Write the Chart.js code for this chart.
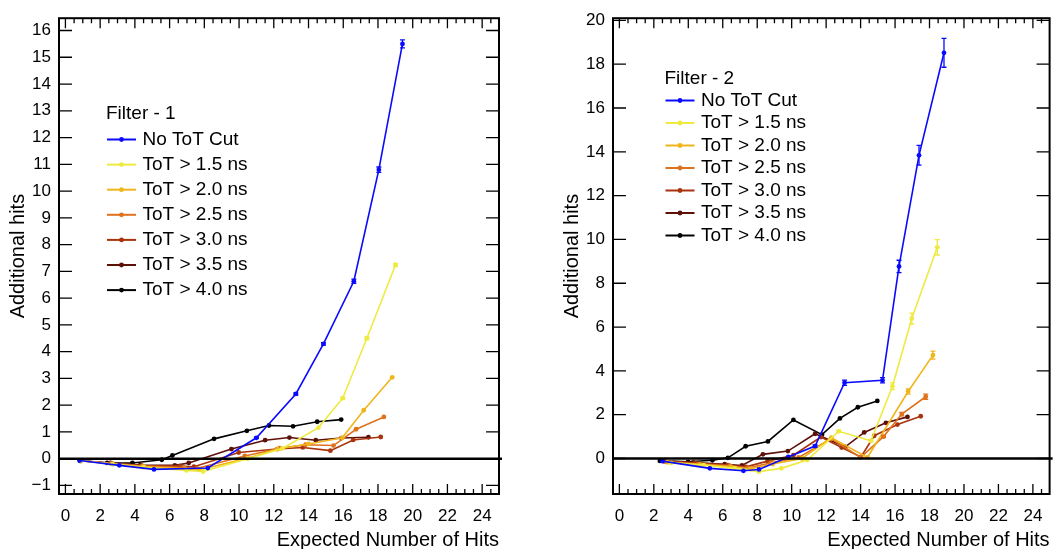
<!DOCTYPE html>
<html>
<head>
<meta charset="utf-8">
<script src="https://cdn.jsdelivr.net/npm/chart.js@4.4.1/dist/chart.umd.min.js"></script>
<style>
  body { margin: 0; background: #fff; width: 1055px; height: 549px; overflow: hidden; position: relative; }
  canvas { position: absolute; top: 0; }
  #filter1 { left: 0; }
  #filter2 { left: 554px; }
</style>
</head>
<body>
<canvas id="filter1" width="527" height="549"></canvas>
<canvas id="filter2" width="501" height="549"></canvas>
<script>
const seriesNames = ['No ToT Cut', 'ToT > 1.5 ns', 'ToT > 2.0 ns', 'ToT > 2.5 ns', 'ToT > 3.0 ns', 'ToT > 3.5 ns', 'ToT > 4.0 ns'];
const seriesColors = ['#0a0aff', '#eeea40', '#efb51a', '#e0721e', '#a8330c', '#5c1008', '#000000'];

const xTicks = [0, 2, 4, 6, 8, 10, 12, 14, 16, 18, 20, 22, 24];
const yTicks1 = [-1, 0, 1, 2, 3, 4, 5, 6, 7, 8, 9, 10, 11, 12, 13, 14, 15, 16];
const yTicks2 = [0, 2, 4, 6, 8, 10, 12, 14, 16, 18, 20];

// Filter - 1 : [expected number of hits, additional hits]
const f1NoCut = [[0.82, -0.07], [3.1, -0.25], [5.1, -0.4], [8.2, -0.35], [11.0, 0.78], [13.27, 2.42], [14.86, 4.29], [16.61, 6.63], [18.05, 10.8], [19.41, 15.5]];
const f1NoCutErr = [0, 0, 0, 0, 0.02, 0.04, 0.05, 0.08, 0.1, 0.15];
const f1Tot15 = [[0.9, -0.08], [2.7, -0.2], [4.5, -0.32], [6.97, -0.44], [7.93, -0.48], [10.5, 0.0], [12.5, 0.38], [14.57, 1.16], [15.97, 2.26], [17.36, 4.5], [19.01, 7.24]];
const f1Tot15Err = [0, 0, 0, 0, 0, 0, 0, 0, 0.03, 0.05, 0.06];
const f1Tot20 = [[0.9, -0.08], [2.7, -0.2], [4.5, -0.3], [6.9, -0.38], [7.7, -0.42], [10.5, 0.02], [12.2, 0.36], [14.0, 0.55], [15.94, 0.78], [17.18, 1.81], [18.82, 3.04]];
const f1Tot25 = [[0.9, -0.08], [2.7, -0.18], [4.4, -0.28], [6.8, -0.33], [7.6, -0.36], [10.33, 0.1], [12.34, 0.39], [13.83, 0.52], [15.44, 0.49], [16.74, 1.1], [18.34, 1.56]];
const f1Tot30 = [[0.9, -0.08], [2.6, -0.17], [4.4, -0.26], [6.6, -0.28], [7.4, -0.3], [9.98, 0.23], [12.19, 0.36], [13.67, 0.42], [15.26, 0.3], [16.57, 0.7], [18.16, 0.81]];
const f1Tot35 = [[0.9, -0.08], [2.6, -0.16], [4.3, -0.24], [6.3, -0.25], [7.1, -0.16], [9.56, 0.36], [11.5, 0.69], [12.9, 0.79], [14.42, 0.69], [15.9, 0.77], [17.45, 0.8]];
const f1Tot40 = [[0.83, -0.08], [2.4, -0.16], [3.86, -0.16], [5.55, -0.04], [6.16, 0.12], [8.56, 0.74], [10.45, 1.04], [11.72, 1.24], [13.11, 1.21], [14.5, 1.38], [15.88, 1.46]];

// Filter - 2
const f2NoCut = [[2.5, -0.12], [5.25, -0.45], [7.2, -0.56], [8.1, -0.5], [9.8, 0.07], [11.36, 0.57], [13.07, 3.46], [15.27, 3.57], [16.23, 8.77], [17.39, 13.84], [18.84, 18.52]];
const f2NoCutErr = [0, 0, 0, 0, 0, 0.05, 0.12, 0.12, 0.28, 0.45, 0.66];
const f2Tot15 = [[3.0, -0.2], [4.9, -0.3], [6.7, -0.45], [8.1, -0.6], [9.4, -0.45], [10.9, -0.07], [12.73, 1.24], [14.6, 0.81], [15.85, 3.3], [16.97, 6.39], [18.45, 9.64]];
const f2Tot15Err = [0, 0, 0, 0, 0, 0, 0.05, 0.05, 0.15, 0.25, 0.35];
const f2Tot20 = [[2.8, -0.17], [4.7, -0.28], [6.5, -0.38], [7.6, -0.48], [8.9, -0.25], [10.6, 0.0], [12.3, 0.95], [14.4, 0.05], [16.76, 3.06], [18.2, 4.72]];
const f2Tot20Err = [0, 0, 0, 0, 0, 0, 0, 0, 0.12, 0.18];
const f2Tot25 = [[2.7, -0.15], [4.6, -0.25], [6.4, -0.33], [7.45, -0.43], [8.8, -0.2], [10.4, 0.05], [12.3, 0.9], [14.0, 0.05], [15.33, 1.0], [16.39, 2.03], [17.78, 2.82]];
const f2Tot25Err = [0, 0, 0, 0, 0, 0, 0, 0, 0.05, 0.08, 0.12];
const f2Tot30 = [[2.6, -0.13], [4.4, -0.2], [6.3, -0.3], [7.35, -0.38], [8.6, -0.12], [10.1, 0.15], [11.7, 0.98], [12.9, 0.5], [14.02, 0.07], [14.79, 1.04], [16.14, 1.55], [17.49, 1.93]];
const f2Tot35 = [[2.55, -0.11], [4.28, -0.18], [6.11, -0.26], [7.11, -0.32], [8.33, 0.19], [9.78, 0.34], [11.36, 1.13], [13.11, 0.53], [14.21, 1.19], [15.47, 1.63], [16.72, 1.9]];
const f2Tot40 = [[2.35, -0.11], [3.99, -0.15], [5.4, -0.08], [6.3, 0.03], [7.33, 0.56], [8.62, 0.78], [10.1, 1.76], [11.76, 1.09], [12.8, 1.83], [13.84, 2.34], [14.97, 2.63]];

const FONT = '"Liberation Sans", Arial, Helvetica, sans-serif';
Chart.defaults.font.family = FONT;
Chart.defaults.color = '#000';

// ROOT-like frame: inward ticks on all sides, zero line, error bars, legend
const rootFrame = {
  id: 'rootFrame',
  afterDatasetsDraw(chart, args, opts) {
    const { ctx, chartArea: a, scales: { x, y } } = chart;
    ctx.save();

    // error bars
    ctx.lineWidth = 1.3;
    chart.data.datasets.forEach(ds => {
      if (!ds.errors) return;
      ctx.strokeStyle = ds.borderColor;
      ds.data.forEach((p, i) => {
        const e = ds.errors[i];
        if (!e) return;
        const px = x.getPixelForValue(p.x);
        const y1 = y.getPixelForValue(p.y - e);
        const y2 = y.getPixelForValue(p.y + e);
        ctx.beginPath();
        ctx.moveTo(px, y1); ctx.lineTo(px, y2);
        ctx.moveTo(px - 2.5, y1); ctx.lineTo(px + 2.5, y1);
        ctx.moveTo(px - 2.5, y2); ctx.lineTo(px + 2.5, y2);
        ctx.stroke();
      });
    });

    // zero line
    ctx.strokeStyle = '#000';
    ctx.lineWidth = 2.6;
    const y0 = y.getPixelForValue(0);
    ctx.beginPath();
    ctx.moveTo(a.left, y0); ctx.lineTo(a.right + 3, y0);
    ctx.stroke();

    // frame
    ctx.lineWidth = 2;
    ctx.strokeRect(a.left, a.top, a.right - a.left, a.bottom - a.top);

    // x ticks, major every 2, minor every 0.5
    ctx.lineWidth = 1.3;
    ctx.beginPath();
    for (let v = 0; v <= x.max; v += 0.5) {
      const px = x.getPixelForValue(v);
      const len = v % 2 === 0 ? 10 : 5;
      ctx.moveTo(px, a.bottom); ctx.lineTo(px, a.bottom - len);
      ctx.moveTo(px, a.top); ctx.lineTo(px, a.top + len);
    }
    // y ticks
    opts.yTicks.forEach(v => {
      const py = y.getPixelForValue(v);
      ctx.moveTo(a.left, py); ctx.lineTo(a.left + 13, py);
      ctx.moveTo(a.right, py); ctx.lineTo(a.right - 13, py);
    });
    ctx.stroke();
    ctx.restore();
  },
  afterDraw(chart, args, opts) {
    const { ctx } = chart;
    const L = opts.legend;
    ctx.save();
    ctx.font = '19px ' + FONT;
    ctx.fillStyle = '#000';
    ctx.textBaseline = 'middle';
    ctx.textAlign = 'left';
    ctx.fillText(L.title, L.x, L.titleY);
    chart.data.datasets.forEach((ds, i) => {
      const yy = L.rowY + i * L.rowH;
      ctx.strokeStyle = ds.borderColor;
      ctx.lineWidth = 2;
      ctx.beginPath();
      ctx.moveTo(L.x + 1, yy); ctx.lineTo(L.x + 30, yy);
      ctx.stroke();
      ctx.fillStyle = ds.borderColor;
      ctx.beginPath();
      ctx.arc(L.x + 15.5, yy, 2.4, 0, Math.PI * 2);
      ctx.fill();
      ctx.fillStyle = '#000';
      ctx.fillText(ds.label, L.x + 36.5, yy);
    });
    ctx.restore();
  }
};

function makeChart(id, series, errs, cfg) {
  return new Chart(document.getElementById(id), {
    type: 'scatter',
    data: {
      datasets: series.map((pts, i) => ({
        label: seriesNames[i],
        data: pts.map(p => ({ x: p[0], y: p[1] })),
        errors: errs[i] || null,
        showLine: true,
        borderColor: seriesColors[i],
        backgroundColor: seriesColors[i],
        borderWidth: 1.6,
        pointRadius: 2.4,
        pointHoverRadius: 2.4,
        pointBorderWidth: 0,
        tension: 0,
        clip: false
      }))
    },
    options: {
      responsive: false,
      animation: false,
      devicePixelRatio: 1,
      layout: { padding: { top: 13, right: cfg.padRight, left: 0, bottom: 0 } },
      plugins: {
        legend: { display: false },
        tooltip: { enabled: false },
        rootFrame: { yTicks: cfg.yTicks, legend: cfg.legend }
      },
      scales: {
        x: {
          type: 'linear',
          min: -0.37, max: 24.97,
          grid: { display: false, drawTicks: false },
          border: { display: false },
          afterBuildTicks: s => { s.ticks = xTicks.map(v => ({ value: v })); },
          afterFit: s => { s.height = 55; },
          ticks: { font: { size: 17 }, padding: 12.5, maxRotation: 0, autoSkip: false, color: '#000' },
          title: {
            display: true, text: 'Expected Number of Hits', align: 'end', color: '#000',
            font: { size: 20, lineHeight: 0.9 }, padding: { top: 0, bottom: 0 }
          }
        },
        y: {
          type: 'linear',
          min: cfg.yMin, max: cfg.yMax,
          grid: { display: false, drawTicks: false },
          border: { display: false },
          afterBuildTicks: s => { s.ticks = cfg.yTicks.map(v => ({ value: v })); },
          afterFit: s => { s.width = 59; },
          ticks: {
            font: { size: 17 }, padding: 8, autoSkip: false, color: '#000',
            callback: v => String(v).replace('-', '\u2212')
          },
          title: {
            display: true, text: 'Additional hits', color: '#000',
            font: { size: 20, lineHeight: 1.2 }, padding: { top: 6.5, bottom: 0 }
          }
        }
      }
    },
    plugins: [rootFrame]
  });
}

makeChart('filter1',
  [f1NoCut, f1Tot15, f1Tot20, f1Tot25, f1Tot30, f1Tot35, f1Tot40],
  [f1NoCutErr, f1Tot15Err],
  { yMin: -1.32, yMax: 16.46, yTicks: yTicks1, padRight: 28,
    legend: { title: 'Filter - 1', x: 106, titleY: 114, rowY: 139.5, rowH: 25.1 } });

makeChart('filter2',
  [f2NoCut, f2Tot15, f2Tot20, f2Tot25, f2Tot30, f2Tot35, f2Tot40],
  [f2NoCutErr, f2Tot15Err, f2Tot20Err, f2Tot25Err],
  { yMin: -1.62, yMax: 20.1, yTicks: yTicks2, padRight: 4,
    legend: { title: 'Filter - 2', x: 110.5, titleY: 78.5, rowY: 100.5, rowH: 22.5 } });
</script>
</body>
</html>
